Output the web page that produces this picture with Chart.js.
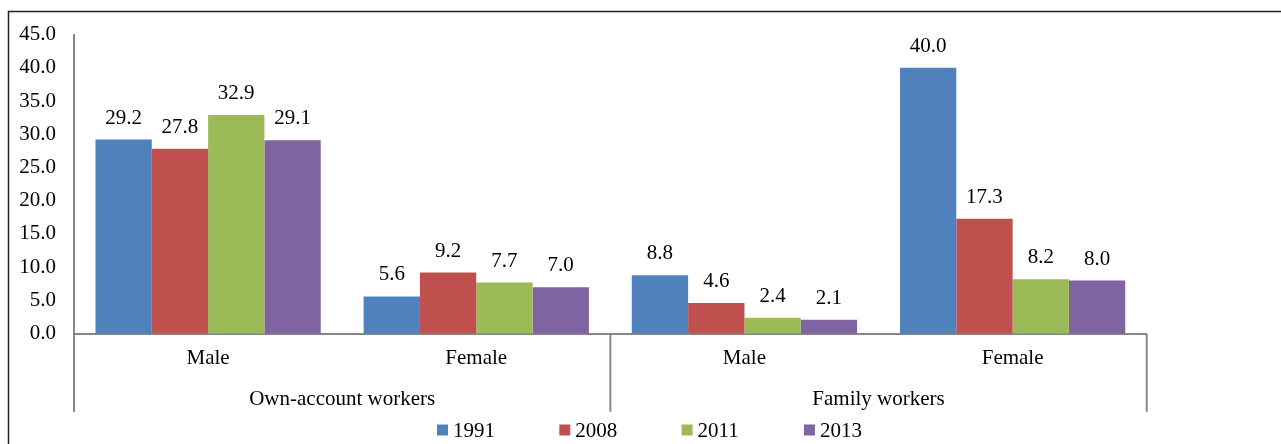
<!DOCTYPE html>
<html lang="en">
<head>
    <meta charset="UTF-8">
    <title>Own-account and family workers</title>
    <style>
        html, body { margin: 0; padding: 0; background: #fff; }
        canvas { display: block; }
    </style>
</head>
<body>
    <canvas id="workersChart" width="1281" height="444"></canvas>

    <script src="https://cdn.jsdelivr.net/npm/chart.js"></script>
    <script>
        // data
        const categories = ['Male', 'Female', 'Male', 'Female'];
        const groups = ['Own-account workers', 'Family workers'];
        const years = ['1991', '2008', '2011', '2013'];

        const values1991 = [29.2, 5.6, 8.8, 40.0];
        const values2008 = [27.8, 9.2, 4.6, 17.3];
        const values2011 = [32.9, 7.7, 2.4, 8.2];
        const values2013 = [29.1, 7.0, 2.1, 8.0];

        const colors = ['#4F81BD', '#C0504D', '#9BBB59', '#8064A2'];
        const FAMILY = '"Liberation Serif", "Times New Roman", serif';
        const SIZE = 21;
        const FONT = SIZE + 'px ' + FAMILY;
        const AXIS = '#868686';

        const seriesValues = [values1991, values2008, values2011, values2013];

        // outer frame, value labels, group labels and legend
        const extras = {
            id: 'extras',
            beforeDraw(chart) {
                const ctx = chart.ctx;
                ctx.save();
                ctx.strokeStyle = '#222';
                ctx.lineWidth = 1.5;
                ctx.beginPath();
                ctx.moveTo(8.5, chart.height + 2);
                ctx.lineTo(8.5, 11.5);
                ctx.lineTo(chart.width + 2, 11.5);
                ctx.stroke();
                ctx.restore();
            },
            afterDatasetsDraw(chart) {
                const ctx = chart.ctx;
                ctx.save();
                ctx.font = FONT;
                ctx.fillStyle = '#000';
                ctx.textAlign = 'center';
                ctx.textBaseline = 'alphabetic';
                chart.data.datasets.forEach((ds, i) => {
                    chart.getDatasetMeta(i).data.forEach((bar, j) => {
                        ctx.fillText(ds.data[j].toFixed(1), bar.x, bar.y - 16);
                    });
                });
                ctx.restore();
            },
            afterDraw(chart) {
                const ctx = chart.ctx;
                const x = chart.scales.x;
                const area = chart.chartArea;
                ctx.save();

                // separators under the axis
                const p = i => x.getPixelForValue(i);
                const lines = [x.left, (p(1) + p(2)) / 2, x.right];
                ctx.strokeStyle = AXIS;
                ctx.lineWidth = 2;
                lines.forEach(lx => {
                    ctx.beginPath();
                    ctx.moveTo(lx, area.bottom);
                    ctx.lineTo(lx, area.bottom + 78);
                    ctx.stroke();
                });

                // group labels
                ctx.font = FONT;
                ctx.fillStyle = '#000';
                ctx.textAlign = 'center';
                ctx.textBaseline = 'middle';
                groups.forEach((g, i) => {
                    const cx = (p(i * 2) + p(i * 2 + 1)) / 2;
                    ctx.fillText(g, cx, area.bottom + 66);
                });

                // legend
                ctx.textAlign = 'left';
                const legendY = 430;
                years.forEach((y, i) => {
                    const bx = 437 + i * 122.3;
                    ctx.fillStyle = colors[i];
                    ctx.fillRect(bx, legendY - 5.5, 11, 11);
                    ctx.fillStyle = '#000';
                    ctx.fillText(y, bx + 16, legendY + 1);
                });
                ctx.restore();
            }
        };

        const data = {
            labels: categories,
            datasets: years.map((y, i) => ({
                label: y,
                data: seriesValues[i],
                backgroundColor: colors[i],
                borderWidth: 0,
                categoryPercentage: 0.84,
                barPercentage: 1.0
            }))
        };

        const config = {
            type: 'bar',
            data: data,
            options: {
                responsive: false,
                animation: false,
                layout: {
                    padding: { top: 34.5, right: 134.3, bottom: 32.3, left: 0 }
                },
                plugins: {
                    legend: { display: false },
                    tooltip: { enabled: false }
                },
                scales: {
                    x: {
                        grid: { display: false, drawTicks: false },
                        border: { display: true, color: AXIS, width: 2 },
                        ticks: {
                            color: '#000',
                            font: { family: FAMILY, size: SIZE },
                            padding: 12,
                            maxRotation: 0
                        },
                        afterFit: scale => { scale.height = 78; }
                    },
                    y: {
                        min: 0,
                        max: 45,
                        grid: { display: false, drawTicks: false },
                        border: { display: true, color: AXIS, width: 2 },
                        ticks: {
                            stepSize: 5,
                            color: '#000',
                            font: { family: FAMILY, size: SIZE },
                            padding: 18,
                            callback: v => v.toFixed(1)
                        },
                        afterFit: scale => { scale.width = 74; }
                    }
                }
            },
            plugins: [extras]
        };

        const workersChart = new Chart(
            document.getElementById('workersChart'),
            config
        );
    </script>
</body>
</html>
